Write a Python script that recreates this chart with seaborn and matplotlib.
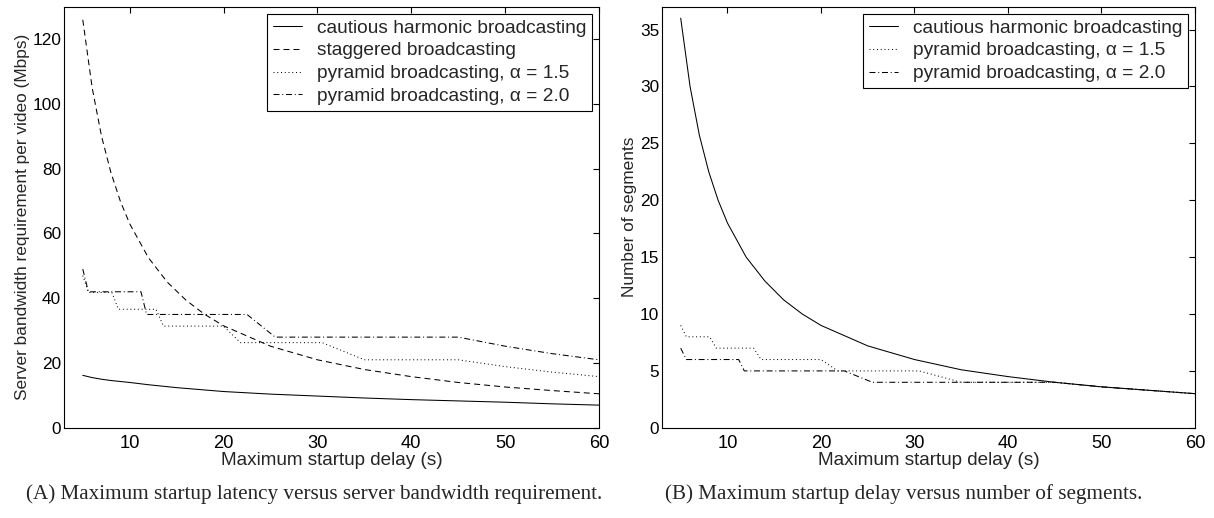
import numpy as np
import pandas as pd
import matplotlib
matplotlib.use("Agg")
import matplotlib.pyplot as plt
import seaborn as sns

# ---------------- data ----------------
# Panel A: server bandwidth (Mbps) vs max startup delay (s)
chb_a_x = [5, 6, 7, 8, 10, 12, 15, 20, 25, 30, 35, 40, 45, 50, 55, 60]
chb_a_y = [16.2, 15.5, 15.0, 14.6, 14.0, 13.3, 12.4, 11.2, 10.4, 9.8, 9.2, 8.7, 8.3, 7.9, 7.4, 7.0]

stag_x = [5, 6, 7, 8, 9, 10, 12, 14, 16, 18, 20, 25, 30, 35, 40, 45, 50, 55, 60]
stag_y = [126, 105, 90, 78.8, 70, 63, 52.5, 45, 39.4, 35, 31.5, 25.2, 21, 18, 15.8, 14, 12.6, 11.5, 10.5]

pyr15_a_x = [5, 5.6, 8.1, 8.8, 12.8, 13.6, 20.0, 21.8, 30.5, 35.0, 45.0, 50.0, 55.0, 60.0]
pyr15_a_y = [47.0, 41.8, 41.8, 36.6, 36.6, 31.4, 31.4, 26.3, 26.3, 21.0, 21.0, 18.9, 17.2, 15.8]

pyr20_a_x = [5, 5.6, 11.2, 11.8, 22.5, 25.5, 45.0, 50.0, 55.0, 60.0]
pyr20_a_y = [49.0, 42.0, 42.0, 35.0, 35.0, 28.0, 28.0, 25.2, 22.9, 21.0]

# Panel B: number of segments vs max startup delay (s)
chb_b_x = [5, 6, 7, 8, 9, 10, 12, 14, 16, 18, 20, 25, 30, 35, 40, 45, 50, 55, 60]
chb_b_y = [36, 30, 25.7, 22.5, 20, 18, 15, 12.9, 11.25, 10, 9, 7.2, 6, 5.1, 4.5, 4, 3.6, 3.3, 3.0]

pyr15_b_x = [5, 5.6, 8.1, 8.8, 12.8, 13.6, 20.0, 21.8, 30.5, 35.0, 45.0, 50.0, 55.0, 60.0]
pyr15_b_y = [9, 8, 8, 7, 7, 6, 6, 5, 5, 4, 4, 3.6, 3.3, 3.0]

pyr20_b_x = [5, 5.6, 11.2, 11.8, 22.5, 25.5, 45.0, 50.0, 55.0, 60.0]
pyr20_b_y = [7, 6, 6, 5, 5, 4, 4, 3.6, 3.3, 3.0]

lab_chb = "cautious harmonic broadcasting"
lab_stag = "staggered broadcasting"
lab_p15 = "pyramid broadcasting, \u03b1 = 1.5"
lab_p20 = "pyramid broadcasting, \u03b1 = 2.0"

# ---------------- style ----------------
sns.set_theme(style="white")
plt.rcParams["font.family"] = ["Liberation Sans", "DejaVu Sans"]
plt.rcParams["lines.scale_dashes"] = False
plt.rcParams["axes.edgecolor"] = "black"
plt.rcParams["axes.linewidth"] = 0.8

FS_TICK = 13.2
FS_XLAB = 13.6
FS_LEG = 13.8
FSV = 12.4     # vertical (y) labels
styles = {
    "solid": "-",
    "dash": (0, (4.3, 2.9)),
    "dot": (0, (0.7, 2.0)),
    "dashdot": (0, (4.3, 2.0, 0.7, 2.0)),
}
LW = 0.75

fig = plt.figure(figsize=(12.14, 5.18), dpi=100)
W, H = 1214, 518
axA = fig.add_axes([64 / W, 1 - 427.8 / H, 535 / W, 421 / H])
axB = fig.add_axes([662 / W, 1 - 427.8 / H, 533 / W, 421 / H])


def draw(ax, x, y, ls, label):
    df = pd.DataFrame({"x": x, "y": y})
    sns.lineplot(data=df, x="x", y="y", ax=ax, color="black", linewidth=LW,
                 linestyle=ls, label=label, estimator=None, sort=False)


draw(axA, chb_a_x, chb_a_y, styles["solid"], lab_chb)
draw(axA, stag_x, stag_y, styles["dash"], lab_stag)
draw(axA, pyr15_a_x, pyr15_a_y, styles["dot"], lab_p15)
draw(axA, pyr20_a_x, pyr20_a_y, styles["dashdot"], lab_p20)

draw(axB, chb_b_x, chb_b_y, styles["solid"], lab_chb)
draw(axB, pyr15_b_x, pyr15_b_y, styles["dot"], lab_p15)
draw(axB, pyr20_b_x, pyr20_b_y, styles["dashdot"], lab_p20)

for ax in (axA, axB):
    ax.set_xlim(3, 60)
    ax.set_xticks([10, 20, 30, 40, 50, 60])
    ax.tick_params(direction="in", length=4, width=0.8, top=True, right=True,
                   colors="black")
    ax.tick_params(axis="x", labelsize=FS_TICK, pad=5.5)
    ax.tick_params(axis="y", labelsize=FSV, pad=2)
    for s in ax.spines.values():
        s.set_visible(True)
        s.set_color("black")
        s.set_linewidth(0.8)
    ax.set_xlabel("Maximum startup delay (s)", fontsize=FS_XLAB, labelpad=0)
    ax.grid(False)
    leg = ax.legend(loc="upper right", fontsize=FS_LEG, frameon=True, fancybox=False,
                    edgecolor="black", framealpha=1, handlelength=1.5,
                    handletextpad=0.8, borderaxespad=0.35, borderpad=0.3,
                    labelspacing=0.28)
    leg.get_frame().set_linewidth(0.8)

axA.set_ylim(0, 130)
axA.set_yticks([0, 20, 40, 60, 80, 100, 120])
axA.set_ylabel("Server bandwidth requirement per video (Mbps)", fontsize=FSV, labelpad=2)

axB.set_ylim(0, 37)
axB.set_yticks([0, 5, 10, 15, 20, 25, 30, 35])
axB.set_ylabel("Number of segments", fontsize=FSV, labelpad=2)

cap_font = dict(family=["Liberation Serif", "DejaVu Serif"], fontsize=15.2,
                ha="center", va="center")
fig.text(314 / W, 1 - 494 / H,
         "(A) Maximum startup latency versus server bandwidth requirement.", **cap_font)
fig.text(904 / W, 1 - 494 / H,
         "(B) Maximum startup delay versus number of segments.", **cap_font)

fig.savefig("out.png", dpi=100)
